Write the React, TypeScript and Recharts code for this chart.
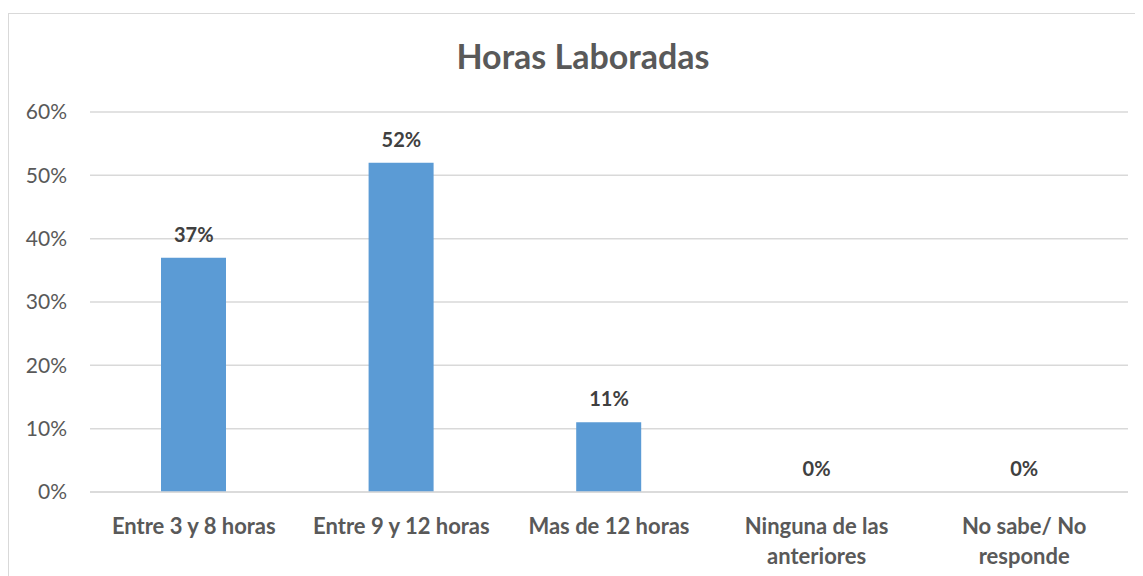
import { Bar, CartesianGrid, ComposedChart, LabelList, Line, XAxis, YAxis } from "recharts";

const categories = [
  "Entre 3 y 8 horas",
  "Entre 9 y 12 horas",
  "Mas de 12 horas",
  "Ninguna de las anteriores",
  "No sabe/ No responde",
];
const shares = [0.37, 0.52, 0.11, 0, 0];
const yTicks = [0, 0.1, 0.2, 0.3, 0.4, 0.5, 0.6];
const title = "Horas Laboradas";

const data = categories.map((name, i) => ({ name, value: shares[i] }));

const FONT = "Lato, 'Open Sans', sans-serif";
const GREY = "#595959";

const pct = (v: number) => `${Math.round(v * 100)}%`;

// split long category names onto two lines like the original
function wrap(label: string): string[] {
  if (label.length <= 18) return [label];
  const words = label.split(" ");
  const lines: string[] = [];
  let cur = "";
  for (const w of words) {
    const next = cur ? `${cur} ${w}` : w;
    if (next.length > 15 && cur) {
      lines.push(cur);
      cur = w;
    } else {
      cur = next;
    }
  }
  if (cur) lines.push(cur);
  return lines;
}

function CategoryTick(props: any) {
  const { x, y, payload } = props;
  const lines = wrap(String(payload.value));
  return (
    <text
      x={x}
      y={y}
      textAnchor="middle"
      fill={GREY}
      fontFamily={FONT}
      fontSize={22}
      fontWeight="bold"
    >
      {lines.map((l, i) => (
        <tspan key={i} x={x} dy={i === 0 ? 34 : 30}>
          {l}
        </tspan>
      ))}
    </text>
  );
}

export default function App() {
  return (
    <div style={{ position: "relative", width: 1135, height: 568, overflow: "hidden" }}>
      <div
        style={{
          position: "absolute",
          left: 0,
          top: 5,
          width: 1160,
          height: 600,
          border: "1px solid #d9d9d9",
          background: "#fff",
        }}
      />
      <div style={{ position: "absolute", left: 0, top: 0 }}>
        <ComposedChart
          width={1135}
          height={568}
          data={data}
          margin={{ top: 104, right: 15, bottom: 0, left: 0 }}
        >
          <text
            x={575}
            y={61}
            textAnchor="middle"
            fill={GREY}
            fontFamily={FONT}
            fontSize={34}
            fontWeight="bold"
          >
            {title}
          </text>
          <CartesianGrid vertical={false} stroke="#d9d9d9" strokeWidth={1.5} />
          <XAxis
            dataKey="name"
            height={84}
            axisLine={{ stroke: "#d9d9d9", strokeWidth: 1.5 }}
            tickLine={false}
            interval={0}
            tick={<CategoryTick />}
          />
          <YAxis
            width={82}
            domain={[0, 0.6]}
            ticks={yTicks}
            tickFormatter={pct}
            axisLine={false}
            tickLine={false}
            tickSize={0}
            tickMargin={23}
            tick={{ fill: GREY, fontSize: 21, fontFamily: FONT }}
          />
          <Bar dataKey="value" fill="#5B9BD5" barSize={65} isAnimationActive={false} />
          {/* invisible line carrying the value labels, so 0% still gets one */}
          <Line
            dataKey="value"
            stroke="none"
            dot={false}
            activeDot={false}
            legendType="none"
            isAnimationActive={false}
          >
            <LabelList
              dataKey="value"
              position="top"
              offset={16}
              formatter={(v: any) => pct(Number(v))}
              fill="#404040"
              fontFamily={FONT}
              fontSize={20}
              fontWeight="bold"
            />
          </Line>
        </ComposedChart>
      </div>
    </div>
  );
}
